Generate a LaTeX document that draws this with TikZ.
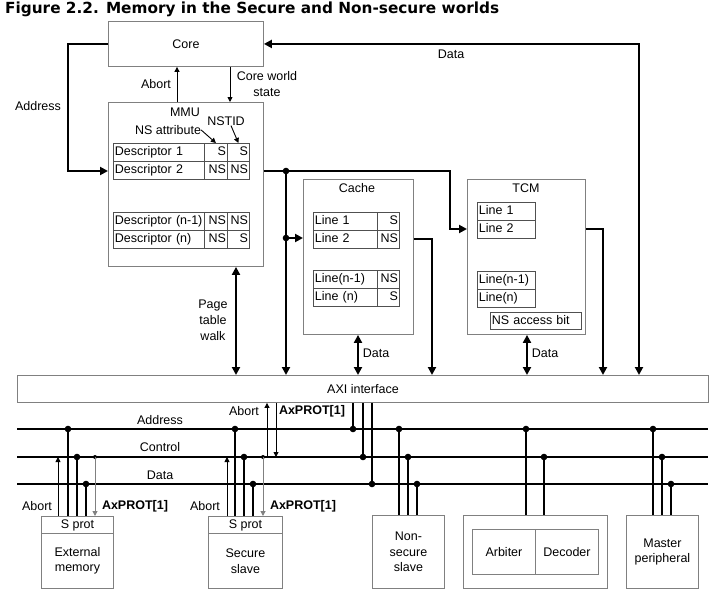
\documentclass[tikz,border=0pt]{standalone}
\usepackage{fontspec}
\setmainfont{Liberation Sans}
\newfontfamily\titlefont{DejaVu Sans}
\usetikzlibrary{arrows.meta,calc}
\definecolor{boxgray}{HTML}{808080}
\definecolor{cellgray}{HTML}{505050}
\newcommand{\fsz}{\fontsize{12.5}{15.5}\selectfont}
\begin{document}
\begin{tikzpicture}[x=1pt,y=-1pt,
  every node/.style={font=\fsz, inner sep=0pt},
  box/.style={draw=boxgray, line width=0.9pt, anchor=north west, fill=white},
  cell/.style={draw=cellgray, line width=0.8pt, anchor=north west, inner xsep=1.5pt, text height=9pt, text depth=2.5pt, minimum height=18pt},
  wire/.style={line width=2pt},
  busline/.style={line width=2.8pt},
  thinw/.style={line width=0.9pt},
  grayw/.style={line width=1pt, draw=boxgray},
  bigarr/.style={-{Triangle[length=8pt,width=8pt]}},
  bigarrs/.style={{Triangle[length=8pt,width=8pt]}-{Triangle[length=8pt,width=8pt]}},
  smallarr/.style={-{Triangle[length=5pt,width=5pt]}},
  boldlab/.style={font=\fsz\bfseries},
]
\useasboundingbox (0,0) rectangle (715,602);

% title
\node[anchor=base west, font=\titlefont\bfseries\fontsize{15.3}{17}\selectfont] (title) at (5,13.5) {Figure 2.2. Memory in the Secure and Non-secure worlds};

% core and MMU
\node[box, minimum width=155pt, minimum height=45pt] (core) at (108,21) {Core};
\node[box, minimum width=155pt, minimum height=164pt] (mmu) at (108,102) {};
\node (mmul) at (185,112) {MMU};
\node (nstid) at (226,121) {NSTID};
\node (nsattr) at (168,130) {NS attribute};

\node[cell, text width=88pt, align=left] (d1a) at (113,143) {\mbox{Descriptor 1}};
\node[cell, text width=20pt, align=right] (d1b) at (204,143) {S};
\node[cell, text width=19pt, align=right] (d1c) at (227,143) {S};
\node[cell, text width=88pt, align=left] (d2a) at (113,161) {\mbox{Descriptor 2}};
\node[cell, text width=20pt, align=right] (d2b) at (204,161) {NS};
\node[cell, text width=19pt, align=right] (d2c) at (227,161) {NS};
\node[cell, text width=88pt, align=left] (d3a) at (113,212) {\mbox{Descriptor (n-1)}};
\node[cell, text width=20pt, align=right] (d3b) at (204,212) {NS};
\node[cell, text width=19pt, align=right] (d3c) at (227,212) {NS};
\node[cell, text width=88pt, align=left] (d4a) at (113,230) {\mbox{Descriptor (n)}};
\node[cell, text width=20pt, align=right] (d4b) at (204,230) {NS};
\node[cell, text width=19pt, align=right] (d4c) at (227,230) {S};

% cache
\node[box, minimum width=110pt, minimum height=155pt] (cache) at (303,179) {};
\node (cachel) at (357,188) {Cache};
\node[cell, text width=61pt, align=left] (c1a) at (313,212) {Line 1};
\node[cell, text width=19pt, align=right] (c1b) at (377,212) {S};
\node[cell, text width=61pt, align=left] (c2a) at (313,230) {Line 2};
\node[cell, text width=19pt, align=right] (c2b) at (377,230) {NS};
\node[cell, text width=61pt, align=left] (c3a) at (313,270) {\mbox{Line(n-1)}};
\node[cell, text width=19pt, align=right] (c3b) at (377,270) {NS};
\node[cell, text width=61pt, align=left] (c4a) at (313,288) {Line (n)};
\node[cell, text width=19pt, align=right] (c4b) at (377,288) {S};

% TCM
\node[box, minimum width=118pt, minimum height=155pt] (tcm) at (467,179) {};
\node (tcml) at (526,188) {TCM};
\node[cell, text width=55pt, align=left] (t1) at (477,202) {Line 1};
\node[cell, text width=55pt, align=left] (t2) at (477,220) {Line 2};
\node[cell, text width=55pt, align=left] (t3) at (477,271) {\mbox{Line(n-1)}};
\node[cell, text width=55pt, align=left] (t4) at (477,289) {Line(n)};
\node[cell, text width=88pt, align=left, minimum height=17pt] (nsab) at (490,312) {NS access bit};

% AXI
\node[box, minimum width=691pt, minimum height=27pt] (axi) at (17,375) {AXI interface};

% bottom boxes
\node[box, minimum width=72pt, minimum height=17pt] (extsp) at (41,516) {S prot};
\node[box, minimum width=72pt, minimum height=55pt, align=center] (extm) at (41,533) {External\\memory};
\node[box, minimum width=74pt, minimum height=17pt] (secsp) at (208,516) {S prot};
\node[box, minimum width=74pt, minimum height=55pt, align=center] (secm) at (208,533) {Secure\\slave};
\node[box, minimum width=72pt, minimum height=73pt, align=center] (nss) at (372,515) {Non-\\secure\\slave};
\node[box, minimum width=144pt, minimum height=73pt] (arbo) at (463,515) {};
\node[box, minimum width=63pt, minimum height=45pt] (arb) at (472,529) {Arbiter};
\node[box, minimum width=63pt, minimum height=45pt] (dec) at (535,529) {Decoder};
\node[box, minimum width=72pt, minimum height=73pt, align=center] (mp) at (626,515) {Master\\peripheral};

% upper connectors
\draw[wire,bigarr] (core.west) -| (68,171) -- (mmu.west |- 68,171);
\node (addrl) at (38,106) {Address};
\draw[thinw,smallarr] (177,0 |- mmu.north) -- (177,0 |- core.south);
\node (abortl) at (156,84) {Abort};
\draw[thinw,smallarr] (230,0 |- core.south) -- (230,0 |- mmu.north);
\node[align=center] (cws) at (267,84) {Core world\\state};
\draw[thinw,smallarr] (nsattr.east) -- (d1b.north);
\draw[thinw,smallarr] ([xshift=5pt]nstid.south) -- (d1c.north);

\draw[wire,bigarr] (mmu.east |- 0,171) -- (450,171) -- (450,229) -- (tcm.west |- 0,229);
\fill (286,171) circle (3.3pt);
\draw[wire,bigarr] (286,171) -- (286,0 |- axi.north);
\fill (286,238) circle (3.3pt);
\draw[wire,bigarr] (286,238) -- (cache.west |- 0,238);
\draw[wire,bigarr] (cache.east |- 0,239) -- (432,239) -- (432,0 |- axi.north);
\draw[wire,bigarr] (tcm.east |- 0,229) -- (603,229) -- (603,0 |- axi.north);
\draw[wire,bigarrs] (core.east) -- (639,0 |- core.east) -- (639,0 |- axi.north);
\node (datatop) at (451,54) {Data};
\draw[wire,bigarrs] (236,0 |- mmu.south) -- (236,0 |- axi.north);
\node[align=center, font=\fontsize{12.5}{16}\selectfont] (ptw) at (213,320) {Page\\table\\walk};
\draw[wire,bigarrs] (358,0 |- cache.south) -- (358,0 |- axi.north);
\node (datac) at (376,353) {Data};
\draw[wire,bigarrs] (527,0 |- tcm.south) -- (527,0 |- axi.north);
\node (datat) at (545,353) {Data};

% buses
\coordinate (addrL) at (17,429); \coordinate (addrR) at (708,429);
\coordinate (ctrlL) at (17,457); \coordinate (ctrlR) at (708,457);
\coordinate (dataL) at (17,484); \coordinate (dataR) at (708,484);
\draw[busline] (addrL) -- (addrR);
\draw[busline] (ctrlL) -- (ctrlR);
\draw[busline] (dataL) -- (dataR);
\node (addrb) at (160,420) {Address};
\node (ctrlb) at (160,447) {Control};
\node (datab) at (160,475) {Data};

% AXI taps
\foreach \x/\y in {353/429,363/457,372/484} {
  \draw[wire] (\x,0 |- axi.south) -- (\x,\y);
  \fill (\x,\y) circle (3.3pt);
}
% external memory taps
\foreach \x/\y in {68/429,77/457,86/484} {
  \draw[wire] (\x,\y) -- (\x,0 |- extsp.north);
  \fill (\x,\y) circle (3.3pt);
}
\fill (95,457) circle (2pt);
\draw[grayw,smallarr] (95,457) -- (95,0 |- extsp.north);
\draw[thinw,smallarr] (58,0 |- extsp.north) -- (58,457);
\node (ab1) at (37,506) {Abort};
\node[boldlab] (ax1) at (135,506) {AxPROT[1]};
% secure slave taps
\foreach \x/\y in {235/429,244/457,253/484} {
  \draw[wire] (\x,\y) -- (\x,0 |- secsp.north);
  \fill (\x,\y) circle (3.3pt);
}
\fill (263,457) circle (2pt);
\draw[grayw,smallarr] (263,457) -- (263,0 |- secsp.north);
\draw[thinw,smallarr] (227,0 |- secsp.north) -- (227,457);
\node (ab2) at (205,506) {Abort};
\node[boldlab] (ax2) at (303,506) {AxPROT[1]};
% upper abort / axprot
\draw[thinw,smallarr] (267,457) -- (267,0 |- axi.south);
\draw[thinw,smallarr] (276,0 |- axi.south) -- (276,457);
\node (ab3) at (244,411) {Abort};
\node[boldlab] (ax3) at (312,411) {AxPROT[1]};
% non-secure slave taps
\foreach \x/\y in {399/429,408/457,417/484} {
  \draw[wire] (\x,\y) -- (\x,0 |- nss.north);
  \fill (\x,\y) circle (3.3pt);
}
% arbiter taps
\foreach \x/\y in {526/429,544/457} {
  \draw[wire] (\x,\y) -- (\x,0 |- arbo.north);
  \fill (\x,\y) circle (3.3pt);
}
% master taps
\foreach \x/\y in {653/429,662/457,671/484} {
  \draw[wire] (\x,\y) -- (\x,0 |- mp.north);
  \fill (\x,\y) circle (3.3pt);
}
\end{tikzpicture}
\end{document}
